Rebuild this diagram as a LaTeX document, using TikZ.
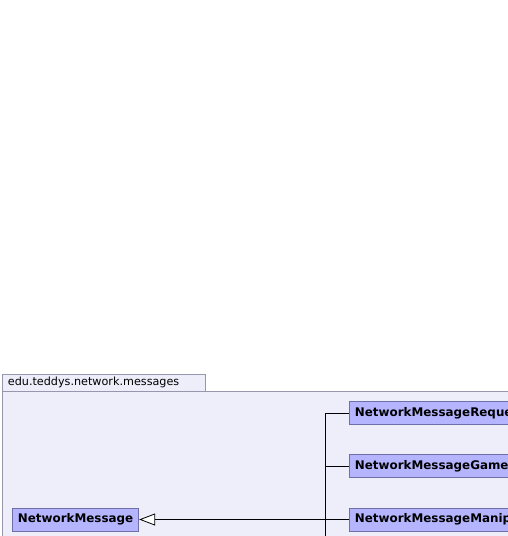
\documentclass[tikz,border=0pt]{standalone}
\usepackage{fontspec}
\setmainfont{DejaVu Sans}
\usetikzlibrary{arrows.meta,positioning}

\definecolor{pkgfill}{RGB}{238,238,251}
\definecolor{pkgline}{RGB}{150,150,172}
\definecolor{clsfill}{RGB}{180,180,255}
\definecolor{clsline}{RGB}{112,112,168}

\begin{document}
\begin{tikzpicture}[
            x = 1pt, y = -1pt, % pixel grid, y going down
            line width = 0.8pt,
            pkg/.style = {draw=pkgline, fill=pkgfill},
            cls/.style = {draw=clsline, fill=clsfill, anchor=west,
                          font=\fontsize{11.9}{13}\selectfont\bfseries,
                          minimum height=23pt, inner xsep=5.5pt, inner ysep=0pt},
            inherit/.style = {-{Triangle[open, fill=white, length=16pt, width=12pt]}}
        ]
	\useasboundingbox (0,0) rectangle (508,536);
	\clip (0,0) rectangle (508,536);

	% package frame
	\draw[pkg] (2,374) rectangle (205,391);
	\draw[pkg] (2,391) rectangle (530,560);
	\node[anchor=west, inner sep=0pt, font=\fontsize{11.2}{13}\selectfont] (pkgname) at (7.5,382.5) {edu.teddys.network.messages};

	% classes
	\node[cls, minimum width=126pt] (msg) at (12,519.5) {NetworkMessage};
	\node[cls] (req) at (349,413) {NetworkMessageRequest};
	\node[cls] (game) at (349,466) {NetworkMessageGame};
	\node[cls] (manip) at (349,519.5) {NetworkMessageManipulation};

	% generalization tree
	\coordinate (trunk) at (325,545);
	\draw (trunk) |- (req.west);
	\draw (trunk |- game.west) -- (game.west);
	\draw[inherit] (manip.west) -- (msg.east);

\end{tikzpicture}
\end{document}
